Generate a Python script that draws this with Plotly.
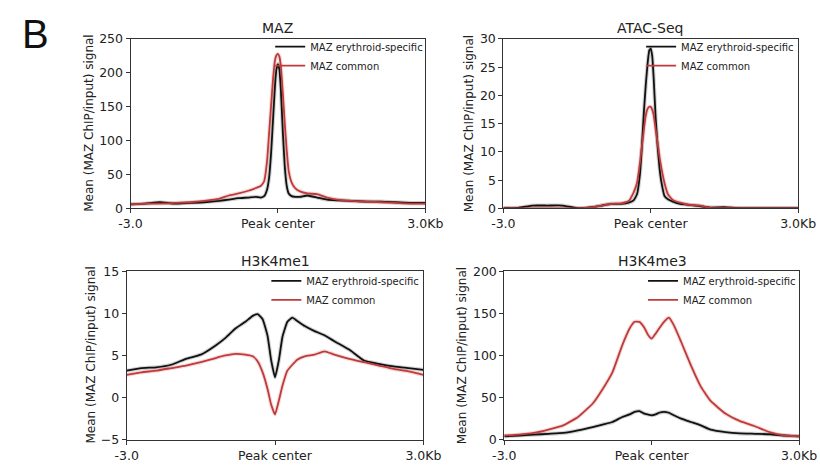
import plotly.graph_objects as go

W, H = 820, 468

# ---------------- data (x in kb relative to peak center) ----------------
x_sharp = [-3.0, -2.7, -2.4, -2.1, -1.8, -1.5, -1.2, -1.0, -0.8, -0.6, -0.45, -0.35,
           -0.28, -0.22, -0.18, -0.14, -0.1, -0.06, -0.03, 0.0, 0.03, 0.06, 0.1, 0.14,
           0.18, 0.22, 0.28, 0.35, 0.45, 0.6, 0.8, 1.0, 1.2, 1.5, 1.8, 2.1, 2.4, 2.7, 3.0]

maz_specific = [6, 7, 9, 7, 8, 9, 11, 13, 15, 16, 17, 16,
                18, 28, 45, 80, 130, 180, 205, 213, 205, 175, 113, 62,
                33, 22, 18, 17, 17, 19, 16, 13, 12, 11, 10, 10, 9, 8, 8]
maz_common = [6, 7, 7, 8, 9, 11, 14, 19, 22, 26, 30, 33,
              40, 70, 110, 150, 190, 218, 226, 228, 224, 210, 170, 125,
              85, 55, 38, 30, 25, 22, 21, 16, 13, 11, 10, 9, 8, 7, 7]

atac_specific = [0.05, 0.1, 0.5, 0.5, 0.5, 0.05, 0.2, 0.5, 0.8, 0.8, 1.0, 1.4,
                 2.5, 6, 11, 17, 22, 26, 28, 28.3, 27, 23, 16, 11,
                 7, 4.5, 2.2, 1.6, 1.2, 0.8, 0.6, 0.4, 0.15, 0.2, 0.05, 0.05, 0.05, 0.05, 0.05]
atac_common = [0, 0, 0, 0, 0, 0, 0.15, 0.5, 0.8, 0.9, 1.3, 2.8,
               4.5, 8, 11, 14, 16.5, 17.7, 18, 18, 17.5, 16.5, 14, 11.5,
               9, 7, 4.5, 2.5, 1.5, 1.0, 0.6, 0.5, 0.1, 0.05, 0, 0, 0, 0, 0]

x_broad = [-3.0, -2.7, -2.4, -2.1, -1.8, -1.5, -1.2, -1.0, -0.8, -0.6, -0.45, -0.35,
           -0.25, -0.15, -0.08, 0.0, 0.08, 0.15, 0.25, 0.35, 0.45, 0.6, 0.8, 1.0,
           1.2, 1.5, 1.8, 2.1, 2.4, 2.7, 3.0]

me1_specific = [3.2, 3.5, 3.6, 3.9, 4.6, 5.1, 6.2, 7.1, 8.2, 9.0, 9.7, 9.9,
                9.3, 7.3, 4.5, 2.4, 4.5, 7.2, 9.0, 9.5, 9.1, 8.5, 7.9, 7.4,
                6.7, 5.7, 4.4, 4.0, 3.7, 3.5, 3.3]
me1_common = [2.7, 3.0, 3.2, 3.5, 3.8, 4.2, 4.7, 5.0, 5.2, 5.1, 4.9, 4.3,
              3.0, 1.0, -0.8, -2.0, -0.3, 1.4, 3.2, 3.9, 4.5, 4.9, 5.1, 5.5,
              5.1, 4.6, 4.2, 3.8, 3.4, 3.1, 2.7]

me3_specific = [4, 5, 6, 7, 8, 11, 15, 18, 21, 27, 30, 33,
                34, 31, 30, 29, 30, 32, 33, 32, 29, 25, 21, 17,
                12, 9, 7.5, 7, 6.5, 5, 4]
me3_common = [5, 6, 8, 12, 17, 27, 43, 60, 80, 112, 132, 140,
              140, 133, 125, 120, 126, 132, 140, 145, 136, 116, 88, 63,
              46, 31, 22, 16, 9, 5, 4]

series_names = ["MAZ erythroid-specific", "MAZ common"]
series_colors = ["#111111", "#c03a3a"]
band_colors = ["rgba(0,0,0,0.18)", "rgba(192,58,58,0.18)"]

panel_titles = ["MAZ", "ATAC-Seq", "H3K4me1", "H3K4me3"]
y_ranges = [[0, 250], [0, 30], [-5, 15], [0, 200]]
y_ticks = [[0, 50, 100, 150, 200, 250], [0, 5, 10, 15, 20, 25, 30],
           [-5, 0, 5, 10, 15], [0, 50, 100, 150, 200]]
x_tick_vals = [-3, 0, 3]
x_tick_text = ["-3.0", "Peak center", "3.0Kb"]
y_title = "Mean (MAZ ChIP/input) signal"

panels = [
    (x_sharp, maz_specific, maz_common),
    (x_sharp, atac_specific, atac_common),
    (x_broad, me1_specific, me1_common),
    (x_broad, me3_specific, me3_common),
]

# layout positions in pixels
boxes = [(123, 429, 32, 207), (510, 816, 32, 207), (119, 427, 272, 446), (511, 817, 272, 446)]
legend_pos = [(268, 25), (653, 25), (264, 267), (655, 267)]
ytitle_x = [80, 474, 82, 468]
title_pos = [(276, 21), (663, 21), (273, 261), (665, 261)]

FONT = "DejaVu Sans"
fig = go.Figure()
layout = {}
annotations = []
for i, (xs, ys_a, ys_b) in enumerate(panels):
    n = "" if i == 0 else str(i + 1)
    leg = "legend" + n
    for name, col, bcol, ys in zip(series_names, series_colors, band_colors, [ys_a, ys_b]):
        fig.add_trace(go.Scatter(x=xs, y=ys, mode="lines", showlegend=False, hoverinfo="skip",
                                 line=dict(color=bcol, width=4, shape="spline", smoothing=0.4),
                                 xaxis="x" + n, yaxis="y" + n))
    for name, col, ys in zip(series_names, series_colors, [ys_a, ys_b]):
        fig.add_trace(go.Scatter(x=xs, y=ys, mode="lines", name=name,
                                 line=dict(color=col, width=1.8, shape="spline", smoothing=0.4),
                                 xaxis="x" + n, yaxis="y" + n, legend=leg))
    l, r, t, b = boxes[i]
    axis_common = dict(showline=True, linecolor="#333", linewidth=1, mirror=True,
                       ticks="outside", ticklen=4, tickcolor="#333", showgrid=False,
                       zeroline=False, tickfont=dict(family=FONT, size=12.5, color="#222"))
    ticktext_y = [("\u2212" + str(-v)) if v < 0 else str(v) for v in y_ticks[i]]
    layout["xaxis" + n] = dict(domain=[l / W, r / W], anchor="y" + n, range=[-3, 3],
                               tickvals=x_tick_vals, ticktext=x_tick_text, **axis_common)
    layout["yaxis" + n] = dict(domain=[1 - b / H, 1 - t / H], anchor="x" + n, range=y_ranges[i],
                               tickvals=y_ticks[i], ticktext=ticktext_y, **axis_common)
    lx, ly = legend_pos[i]
    layout[leg] = dict(x=lx / W, y=1 - ly / H, xanchor="left", yanchor="top",
                       bgcolor="rgba(0,0,0,0)", font=dict(family=FONT, size=10, color="#222"),
                       itemwidth=30, tracegroupgap=0)
    # y-axis title
    annotations.append(dict(text=y_title, x=ytitle_x[i] / W, y=1 - ((t + b) / 2) / H,
                            xref="paper", yref="paper", xanchor="center", yanchor="middle",
                            textangle=-90, showarrow=False,
                            font=dict(family=FONT, size=12, color="#222")))
    tx, ty = title_pos[i]
    annotations.append(dict(text=panel_titles[i], x=tx / W, y=1 - ty / H, xref="paper", yref="paper",
                            xanchor="center", yanchor="middle", showarrow=False,
                            font=dict(family=FONT, size=14, color="#222")))

annotations.append(dict(text="B", x=8 / W, y=1 - 2 / H, xref="paper", yref="paper",
                        xanchor="left", yanchor="top", showarrow=False,
                        font=dict(family="Liberation Sans", size=40, color="#111")))

fig.update_layout(width=W, height=H, margin=dict(l=0, r=0, t=0, b=0),
                  paper_bgcolor="white", plot_bgcolor="white", showlegend=True,
                  annotations=annotations, **layout)
fig.write_html("out.html")
